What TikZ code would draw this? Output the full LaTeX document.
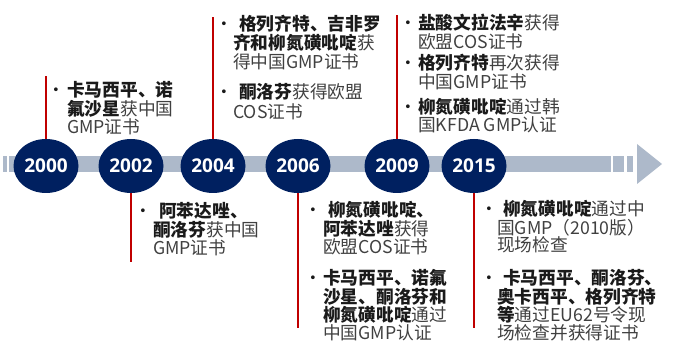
\documentclass[tikz,border=0pt]{standalone}
\usepackage{fontspec}
\setmainfont{Noto Sans CJK SC}
\newfontfamily\yearfont{Open Sans}
\usetikzlibrary{shapes.geometric}
\definecolor{navy}{HTML}{002060}
\definecolor{bandc}{HTML}{ADB9CA}
\definecolor{redc}{HTML}{C00000}
\definecolor{graytext}{HTML}{404040}
\definecolor{blacktext}{HTML}{1A1A1A}
\newcommand\bk[1]{\textbf{\color{blacktext}#1}}
\begin{document}
\begin{tikzpicture}[x=1pt,y=-1pt,
  band/.style={fill=bandc,draw=none},
  yearnode/.style={ellipse,fill=navy,draw=none,minimum width=65pt,minimum height=54pt,inner sep=0,
    text=white,font=\yearfont\bfseries\fontsize{19}{19}\selectfont},
  redline/.style={draw=redc,line width=2pt},
  txt/.style={anchor=west,inner sep=0,font=\fontsize{17.7}{19}\selectfont,text=graytext,
    text height=15.6pt,text depth=2.1pt},
  bul/.style={anchor=center,inner sep=0,font=\fontsize{17.7}{19}\selectfont,text=blacktext,
    text height=15.6pt,text depth=2.1pt}]
\useasboundingbox (0,0) rectangle (678,347);
% band
\fill[band] (3,156) rectangle (7,172);
\fill[band] (9,156) rectangle (611,172);
\fill[band] (613,156) rectangle (624,172);
\fill[band] (627,156) rectangle (633,172);
\fill[band] (637,144) -- (662,164) -- (637,184) -- cycle;
% years
\node[yearnode] (e2000) at (46,166) {2000};
\node[yearnode] (e2002) at (131,166) {2002};
\node[yearnode] (e2004) at (213,166) {2004};
\node[yearnode] (e2006) at (298,166) {2006};
\node[yearnode] (e2009) at (397,166) {2009};
\node[yearnode] (e2015) at (474,166) {2015};
% line ends
\coordinate (t2000) at (46,76);
\coordinate (t2004) at (213,17);
\coordinate (t2009) at (397,15);
\coordinate (b2002) at (131,262);
\coordinate (b2006) at (298,328);
\coordinate (b2015) at (474,328);
\draw[redline] (e2000.north) -- (t2000);
\draw[redline] (e2004.north) -- (t2004);
\draw[redline] (e2009.north) -- (t2009);
\draw[redline] (e2002.south) -- (b2002);
\draw[redline] (e2006.south) -- (b2006);
\draw[redline] (e2015.south) -- (b2015);
% 2000
\node[bul] (p2000) at (56,90) {•};
\node[txt] (a1) at (67,90) {\bk{卡马西平、诺}};
\node[txt] (a2) at (67,108.5) {\bk{氟沙星}获中国};
\node[txt] (a3) at (67,127) {GMP证书};
% 2002
\node[bul] (p2002) at (143,211) {•};
\node[txt] (b1) at (159,211) {\bk{阿苯达唑、}};
\node[txt] (b2) at (153,230) {\bk{酮洛芬}获中国};
\node[txt] (b3) at (153,248) {GMP证书};
% 2004
\node[bul] (p2004a) at (224,24) {•};
\node[txt] (c1) at (239,24) {\bk{格列齐特、吉非罗}};
\node[txt] (c2) at (233,43) {\bk{齐和柳氮磺吡啶}获};
\node[txt] (c3) at (233,62) {得中国GMP证书};
\node[bul] (p2004b) at (224,92) {•};
\node[txt] (c4) at (239,92) {\bk{酮洛芬}获得欧盟};
\node[txt] (c5) at (233,112) {COS证书};
% 2006
\node[bul] (p2006a) at (313,210) {•};
\node[txt] (d1) at (328,210) {\bk{柳氮磺吡啶、}};
\node[txt] (d2) at (323,229) {\bk{阿苯达唑}获得};
\node[txt] (d3) at (323,247) {欧盟COS证书};
\node[bul] (p2006b) at (313,278) {•};
\node[txt] (d4) at (323,278) {\bk{卡马西平、诺氟}};
\node[txt] (d5) at (323,297) {\bk{沙星、酮洛芬和}};
\node[txt] (d6) at (323,315) {\bk{柳氮磺吡啶}通过};
\node[txt] (d7) at (323,333) {中国GMP认证};
% 2009
\node[bul] (p2009a) at (408,23) {•};
\node[txt] (f1) at (418,23) {\bk{盐酸文拉法辛}获得};
\node[txt] (f2) at (418,42) {欧盟COS证书};
\node[bul] (p2009b) at (408,63) {•};
\node[txt] (f3) at (418,63) {\bk{格列齐特}再次获得};
\node[txt] (f4) at (418,82) {中国GMP证书};
\node[bul] (p2009c) at (408,107) {•};
\node[txt] (f5) at (418,107) {\bk{柳氮磺吡啶}通过韩};
\node[txt] (f6) at (418,125) {国KFDA GMP认证};
% 2015
\node[bul] (p2015a) at (489,209) {•};
\node[txt] (g1) at (503,209) {\bk{柳氮磺吡啶}通过中};
\node[txt] (g2) at (497,228) {国GMP（2010版）};
\node[txt] (g3) at (497,245) {现场检查};
\node[bul] (p2015b) at (489,278) {•};
\node[txt] (g4) at (503,278) {\bk{卡马西平、酮洛芬、}};
\node[txt] (g5) at (497,297) {\bk{奥卡西平、格列齐特}};
\node[txt] (g6) at (497,315) {\bk{等}通过EU62号令现};
\node[txt] (g7) at (497,333) {场检查并获得证书};
\end{tikzpicture}
\end{document}
